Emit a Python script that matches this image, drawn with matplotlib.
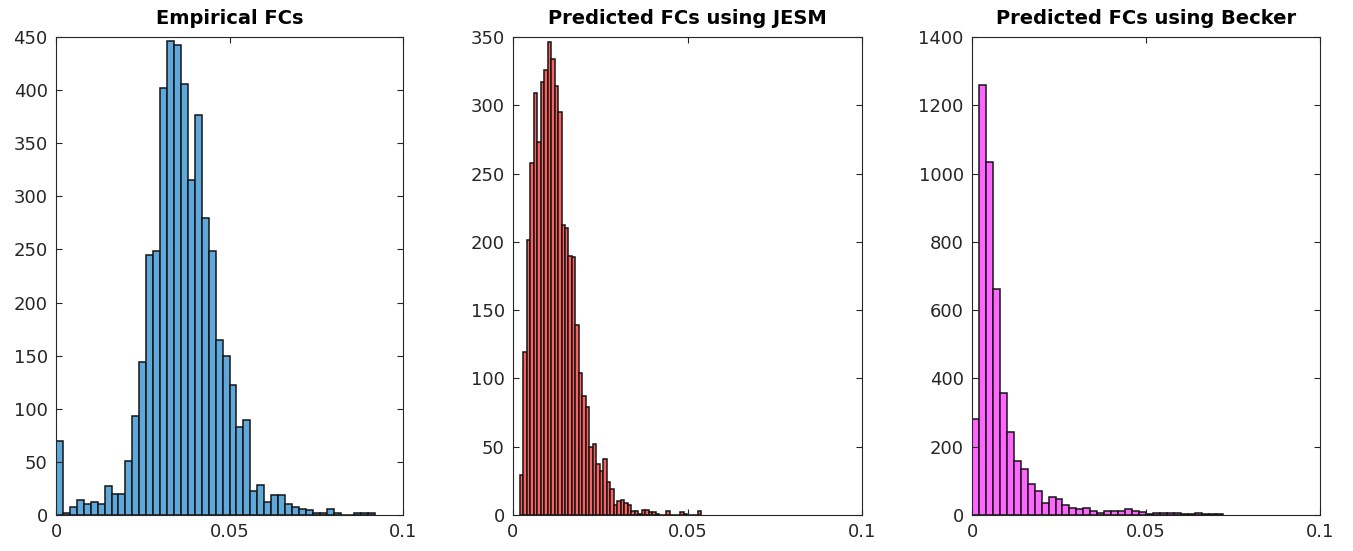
import numpy as np
import matplotlib
matplotlib.use('Agg')
import matplotlib.pyplot as plt

# histogram counts per bin
empirical_counts = [70, 2, 8, 14, 10, 12, 10, 27, 20, 20,
                    51, 93, 144, 245, 249, 402, 446, 442, 406, 315,
                    377, 280, 249, 165, 150, 122, 83, 89, 23, 28,
                    12, 19, 19, 10, 8, 6, 5, 2, 2, 6,
                    2, 0, 0, 2, 2, 2]
jesm_counts = [29, 119, 201, 258, 309, 273, 317, 326, 346, 334,
               314, 295, 212, 210, 190, 189, 139, 104, 87, 79,
               50, 52, 37, 32, 41, 24, 19, 7, 10, 11,
               9, 7, 3, 3, 1, 4, 4, 2, 2, 1,
               0, 0, 3, 0, 0, 0, 2, 1, 0, 0,
               0, 3]
becker_counts = [280, 1258, 1035, 661, 358, 242, 158, 134, 91, 71,
                 36, 52, 46, 30, 20, 17, 21, 12, 7, 12,
                 12, 12, 17, 13, 9, 2, 7, 7, 7, 7,
                 2, 2, 7, 2, 2, 2]

empirical_bins = (0.0, 0.002)
jesm_bins = (0.0019, 0.001)
becker_bins = (0.0, 0.002)

titles = ['Empirical FCs', 'Predicted FCs using JESM', 'Predicted FCs using Becker']
ylims = [450, 350, 1400]
ysteps = [50, 50, 200]

# MATLAB default colours at FaceAlpha 0.6 over white
colors = ['#5ea8dc', '#ff6060', '#ff66ff']

W, H = 1353, 551
axes_px = [(56, 403), (513, 862), (972, 1320)]
top_px, bottom_px = 37, 515

fig = plt.figure(figsize=(W / 100, H / 100), dpi=100)
plt.rcParams['font.family'] = 'DejaVu Sans'

panels = [(empirical_counts, empirical_bins), (jesm_counts, jesm_bins), (becker_counts, becker_bins)]
for i, (counts, (start, width)) in enumerate(panels):
    l, r = axes_px[i]
    ax = fig.add_axes([l / W, (H - bottom_px) / H, (r - l) / W, (bottom_px - top_px) / H])
    counts = np.array(counts)
    left_edges = start + width * np.arange(len(counts))
    ax.bar(left_edges, counts, width=width, align='edge', color=colors[i],
           edgecolor='#151515', linewidth=1.1)
    ax.set_xlim(0, 0.1)
    ax.set_ylim(0, ylims[i])
    ax.set_xticks([0, 0.05, 0.1])
    ax.set_xticklabels(['0', '0.05', '0.1'])
    ax.set_yticks(np.arange(0, ylims[i] + 1, ysteps[i]))
    ax.tick_params(direction='in', top=True, right=True, length=4, width=0.8,
                   labelsize=13, colors='#262626', pad=6)
    for s in ax.spines.values():
        s.set_color('#262626')
        s.set_linewidth(0.8)
    ax.set_title(titles[i], fontsize=14, fontweight='bold', pad=9)

fig.savefig('out.png', dpi=100)
